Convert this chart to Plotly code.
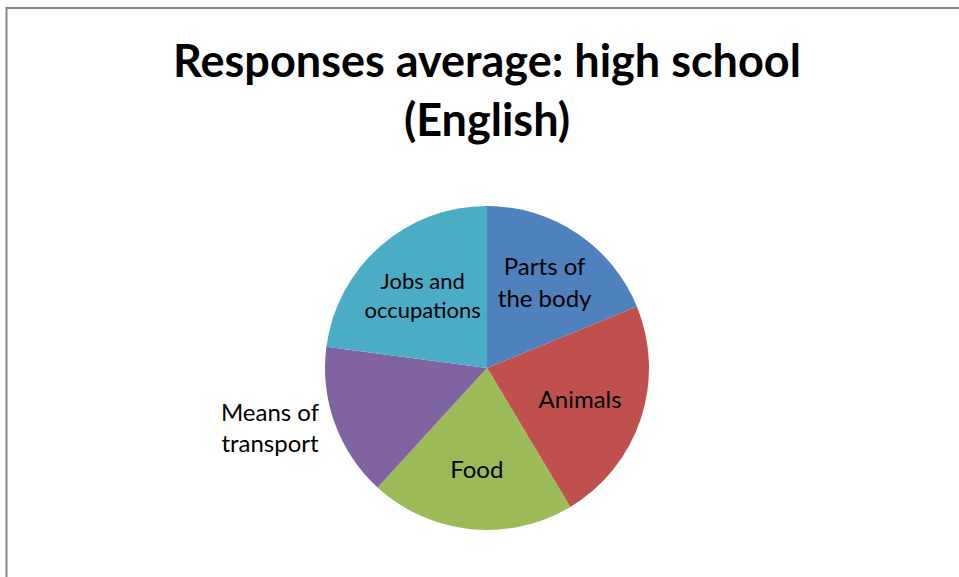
import plotly.graph_objects as go

categories = ["Parts of<br>the body", "Animals", "Food", "Means of<br>transport", "Jobs and<br>occupations"]
values = [18.8, 22.6, 20.4, 15.3, 22.9]
colors = ["#4F81BD", "#C0504D", "#9BBB59", "#8064A2", "#4BACC6"]
text_positions = ["inside", "inside", "inside", "outside", "inside"]

W, H = 959, 577
cx, cy, r = 487, 368, 162

fig = go.Figure(go.Pie(
    labels=categories,
    values=values,
    sort=False,
    direction="clockwise",
    rotation=0,
    marker=dict(colors=colors, line=dict(width=0)),
    textinfo="label",
    textposition=text_positions,
    insidetextorientation="horizontal",
    textfont=dict(family="Lato", size=24, color="#000000"),
    showlegend=False,
    hoverinfo="label+value",
    domain=dict(x=[(cx - r) / W, (cx + r) / W], y=[(H - cy - r) / H, (H - cy + r) / H]),
    automargin=False,
))

fig.update_layout(
    width=W, height=H,
    margin=dict(l=0, r=0, t=0, b=0),
    paper_bgcolor="white",
    title=dict(
        text="<b>Responses average: high school<br>(English)</b>",
        x=487 / W, xanchor="center",
        y=1 - 77 / H, yanchor="middle",
        font=dict(family="Lato", size=45, color="#000000"),
    ),
    shapes=[dict(type="rect", xref="paper", yref="paper",
                 x0=6.5 / W, x1=1.02, y0=-0.05, y1=1 - 8 / H,
                 line=dict(color="#888888", width=2))],
)

fig.write_html("out.html")
